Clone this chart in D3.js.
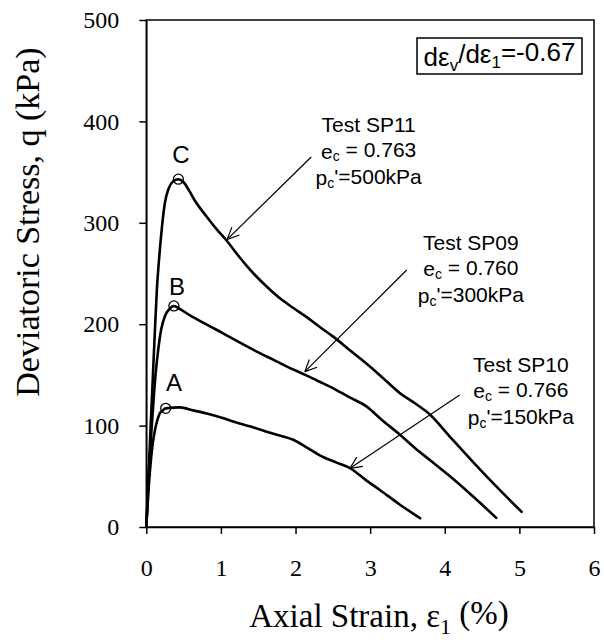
<!DOCTYPE html>
<html>
<head>
<meta charset="utf-8">
<script src="https://cdn.jsdelivr.net/npm/d3@7"></script>
<style>
  html, body { margin: 0; padding: 0; background: #fff; }
  svg { display: block; }
</style>
</head>
<body>
<svg id="chart" width="604" height="644"></svg>
<script>
// ---------------- DATA ----------------
const xTicks = [0, 1, 2, 3, 4, 5, 6];
const yTicks = [0, 100, 200, 300, 400, 500];

// Test SP11 (curve C)
const strainSP11 = [0, 0.02, 0.05, 0.08, 0.11, 0.14, 0.18, 0.21, 0.25, 0.30, 0.36, 0.43, 0.50, 0.58, 0.65, 0.81, 0.95, 1.07, 1.25, 1.34, 1.45, 1.63, 1.80, 1.97, 2.15, 2.33, 2.50, 2.75, 3.00, 3.20, 3.40, 3.60, 3.80, 4.07, 4.38, 4.69, 5.03];
const stressSP11 = [0, 35, 85, 135, 185, 232, 272, 296, 320, 334, 341, 343, 340, 331, 322, 306, 293, 283, 266, 258, 249, 236, 225, 216, 207, 197, 188, 173, 158, 145, 132, 122, 111, 89, 64, 40, 15];

// Test SP09 (curve B)
const strainSP09 = [0, 0.02, 0.04, 0.07, 0.10, 0.13, 0.16, 0.20, 0.25, 0.31, 0.37, 0.45, 0.58, 0.80, 1.03, 1.25, 1.48, 1.70, 1.92, 2.13, 2.30, 2.50, 2.72, 2.95, 3.15, 3.40, 3.60, 3.80, 4.07, 4.38, 4.69];
const stressSP09 = [0, 30, 60, 96, 128, 155, 175, 195, 208, 215, 218, 215, 209, 200, 191, 182, 173, 165, 157, 150, 144, 137, 128, 119, 106, 91, 78, 66, 50, 30, 9];

// Test SP10 (curve A)
const strainSP10 = [0, 0.02, 0.05, 0.086, 0.117, 0.15, 0.18, 0.22, 0.26, 0.45, 0.63, 0.81, 1.00, 1.165, 1.40, 1.61, 1.80, 1.97, 2.17, 2.37, 2.55, 2.73, 2.93, 3.13, 3.40, 3.67];
const stressSP10 = [0, 25, 56, 82, 96, 106, 112, 115, 117, 118, 115, 112, 108, 104, 99, 94, 90, 86, 77.5, 69, 63.5, 58, 47, 36.5, 22, 8.6];

// Peak markers
const peakLabels = ["A", "B", "C"];
const peakStrain = [0.26, 0.37, 0.43];
const peakStress = [117, 218, 343];
const peakLabelStrain = [0.37, 0.41, 0.465];
const peakLabelStress = [134, 229, 359];

// Test annotations
const testNames = ["Test SP11", "Test SP09", "Test SP10"];
const testVoid = ["0.763", "0.760", "0.766"];
const testPressure = ["500kPa", "300kPa", "150kPa"];
const textStrain = [2.98, 4.35, 5.02];
const textStress = [389.5, 273.2, 152.9];
const arrowFromStrain = [2.21, 3.49, 4.20];
const arrowFromStress = [364.9, 253.5, 130.2];
const arrowToStrain = [1.085, 2.125, 2.73];
const arrowToStress = [283.7, 153.2, 57.9];

const boxValue = "-0.67";

// ---------------- CHART ----------------
const svg = d3.select("#chart");
const W = 604, H = 644;
const margin = { left: 146.3, right: 10, top: 20, bottom: 117 };
const sans = "'Liberation Sans', Arial, Helvetica, sans-serif";
const serif = "'Liberation Serif', 'Times New Roman', Times, serif";

const x = d3.scaleLinear().domain([0, 6]).range([margin.left, W - margin.right]);
const y = d3.scaleLinear().domain([0, 500]).range([H - margin.bottom, margin.top]);

// frame
svg.append("rect")
  .attr("x", x(0)).attr("y", y(500))
  .attr("width", x(6) - x(0)).attr("height", y(0) - y(500))
  .attr("fill", "none").attr("stroke", "#000").attr("stroke-width", 1.5);

// axes
const xAxis = svg.append("g")
  .attr("transform", `translate(0,${y(0)})`)
  .call(d3.axisBottom(x).tickValues(xTicks).tickFormat(d3.format("d")).tickSize(7).tickSizeOuter(0).tickPadding(25));
const yAxis = svg.append("g")
  .attr("transform", `translate(${x(0)},0)`)
  .call(d3.axisLeft(y).tickValues(yTicks).tickFormat(d3.format("d")).tickSize(7).tickSizeOuter(0).tickPadding(20));
[xAxis, yAxis].forEach(g => {
  g.select(".domain").attr("stroke", "#000").attr("stroke-width", 1.5);
  g.selectAll(".tick line").attr("stroke", "#000").attr("stroke-width", 1.5);
  g.selectAll(".tick text").attr("fill", "#000").style("font-family", serif).style("font-size", "24px");
});

// axis titles
const xt = svg.append("text")
  .attr("x", 379).attr("y", 627)
  .attr("text-anchor", "middle")
  .style("font-family", serif).style("font-size", "33px").attr("fill", "#000");
xt.append("tspan").text("Axial Strain, ε");
xt.append("tspan").attr("dy", "0.3em").style("font-size", "22px").text("1");
xt.append("tspan").attr("dy", "-0.3em").text(" (%)");

svg.append("text")
  .attr("transform", "translate(39,222) rotate(-90)")
  .attr("text-anchor", "middle")
  .style("font-family", serif).style("font-size", "34px").attr("fill", "#000")
  .text("Deviatoric Stress, q (kPa)");

// curves
const line = d3.line().curve(d3.curveMonotoneX).x(d => x(d[0])).y(d => y(d[1]));
const series = [
  d3.zip(strainSP11, stressSP11),
  d3.zip(strainSP09, stressSP09),
  d3.zip(strainSP10, stressSP10)
];
svg.append("g").selectAll("path").data(series).join("path")
  .attr("d", line)
  .attr("fill", "none").attr("stroke", "#000").attr("stroke-width", 2.6)
  .attr("stroke-linejoin", "round").attr("stroke-linecap", "round");

// peak circles and labels
const peaks = peakLabels.map((l, i) => ({ l, sx: peakStrain[i], sq: peakStress[i], lx: peakLabelStrain[i], lq: peakLabelStress[i] }));
svg.append("g").selectAll("circle").data(peaks).join("circle")
  .attr("cx", d => x(d.sx)).attr("cy", d => y(d.sq)).attr("r", 5)
  .attr("fill", "none").attr("stroke", "#000").attr("stroke-width", 1.3);
svg.append("g").selectAll("text").data(peaks).join("text")
  .attr("x", d => x(d.lx)).attr("y", d => y(d.lq))
  .attr("text-anchor", "middle")
  .style("font-family", sans).style("font-size", "24px").attr("fill", "#000")
  .text(d => d.l);

// annotations with arrows
const ann = svg.append("g");
const fs = 21, lh = 26.5;
testNames.forEach((name, i) => {
  const cx = x(textStrain[i]), by = y(textStress[i]);
  ann.append("text").attr("text-anchor", "middle").attr("x", cx).attr("y", by)
    .style("font-family", sans).style("font-size", fs + "px").attr("fill", "#000")
    .text(name);
  const l2 = ann.append("text").attr("text-anchor", "middle").attr("x", cx).attr("y", by + lh)
    .style("font-family", sans).style("font-size", fs + "px").attr("fill", "#000");
  l2.append("tspan").text("e");
  l2.append("tspan").attr("dy", "0.2em").style("font-size", "14px").text("c");
  l2.append("tspan").attr("dy", "-0.2em").text(" = " + testVoid[i]);
  const l3 = ann.append("text").attr("text-anchor", "middle").attr("x", cx).attr("y", by + 2 * lh)
    .style("font-family", sans).style("font-size", fs + "px").attr("fill", "#000");
  l3.append("tspan").text("p");
  l3.append("tspan").attr("dy", "0.2em").style("font-size", "14px").text("c");
  l3.append("tspan").attr("dy", "-0.2em").text("'=" + testPressure[i]);

  const x1 = x(arrowFromStrain[i]), y1 = y(arrowFromStress[i]);
  const x2 = x(arrowToStrain[i]), y2 = y(arrowToStress[i]);
  ann.append("line").attr("x1", x1).attr("y1", y1).attr("x2", x2).attr("y2", y2)
    .attr("stroke", "#000").attr("stroke-width", 1.2);
  const ang = Math.atan2(y1 - y2, x1 - x2);
  const L = 13, a = 25 * Math.PI / 180;
  [ang - a, ang + a].forEach(b => {
    ann.append("line").attr("x1", x2).attr("y1", y2)
      .attr("x2", x2 + L * Math.cos(b)).attr("y2", y2 + L * Math.sin(b))
      .attr("stroke", "#000").attr("stroke-width", 1.2);
  });
});

// slope box
svg.append("rect").attr("x", 417).attr("y", 38).attr("width", 165).attr("height", 36)
  .attr("fill", "#fff").attr("stroke", "#000").attr("stroke-width", 1.5);
const bt = svg.append("text").attr("x", 499.5).attr("y", 66).attr("text-anchor", "middle")
  .style("font-family", sans).style("font-size", "26px").attr("fill", "#000");
bt.append("tspan").text("dε");
bt.append("tspan").attr("dy", "0.3em").style("font-size", "17px").text("v");
bt.append("tspan").attr("dy", "-0.3em").text("/dε");
bt.append("tspan").attr("dy", "0.3em").style("font-size", "17px").text("1");
bt.append("tspan").attr("dy", "-0.3em").text("=" + boxValue);
</script>
</body>
</html>
